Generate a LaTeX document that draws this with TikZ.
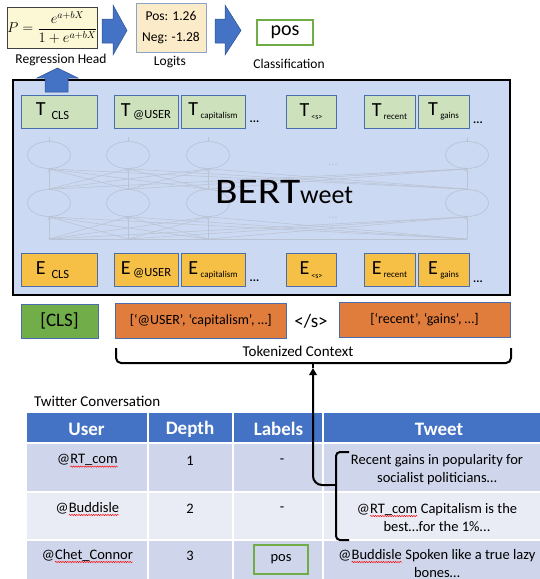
\documentclass[tikz,border=0pt]{standalone}
\usepackage{fontspec}
\setmainfont{Carlito}
\usepackage{amsmath}
\usetikzlibrary{arrows.meta,shapes.geometric,decorations.pathmorphing}
\newcommand\redwave[1]{\tikz[baseline=(wv.base)]{\node[inner sep=0, outer sep=0, draw=none, fill=none, shape=rectangle, anchor=base] (wv) at (0,0) {#1};
  \draw[red, line width=0.45pt, decorate, decoration={snake, amplitude=0.7pt, segment length=2.4pt}] ([yshift=-2.8pt]wv.base west) -- ([yshift=-2.8pt]wv.base east);}}
\definecolor{bertblue}{HTML}{CCD9F2}
\definecolor{tgreen}{HTML}{CDE2BC}
\definecolor{eorange}{HTML}{F6BF45}
\definecolor{boxblue}{HTML}{4A6DAD}
\definecolor{clsgreen}{HTML}{71AD48}
\definecolor{ctxorange}{HTML}{E07C3C}
\definecolor{hdrblue}{HTML}{4472C4}
\definecolor{rowa}{HTML}{CFD5EA}
\definecolor{rowb}{HTML}{E9EBF5}
\definecolor{regyellow}{HTML}{FCF8D6}
\definecolor{logitfill}{HTML}{FCEBC8}
\definecolor{logitedge}{HTML}{8DA3CB}
\definecolor{posgreen}{HTML}{70AD47}
\definecolor{arrowblue}{HTML}{4472C4}
\definecolor{arrowedge}{HTML}{2F528F}
\definecolor{netgray}{HTML}{BAC3D4}
\newcommand\tokfmt[5]{{\fontsize{20}{22}\selectfont #1}\kern#5\raisebox{-#4}{\fontsize{#3}{#3}\selectfont #2}}
\begin{document}
\begin{tikzpicture}[x=1pt,y=-1pt,
  lbl/.style={font=\fontsize{13.5}{15}\selectfont, inner sep=0},
  biglbl/.style={font=\fontsize{15}{17}\selectfont, inner sep=0},
  blockarrow/.style={fill=arrowblue, draw=arrowedge, line width=0.5pt},
  tokbox/.style={draw=boxblue, line width=0.8pt, inner sep=0, outer sep=0, minimum height=33},
  tbox/.style={tokbox, fill=tgreen},
  ebox/.style={tokbox, fill=eorange},
  dots/.style={font=\fontsize{12}{12}\selectfont\bfseries, inner sep=0},
  net/.style={draw=netgray, line width=0.55pt},
  netarrow/.style={net, -{Stealth[length=3pt,width=2.6pt]}},
  netnode/.style={ellipse, draw=netgray, line width=0.7pt, minimum width=43, minimum height=27, inner sep=0},
  ctxbox/.style={draw=boxblue, line width=0.8pt, fill=ctxorange, inner sep=0, minimum height=35, font=\fontsize{14}{16}\selectfont},
  bracepath/.style={draw=black, line width=2pt, rounded corners=5pt},
  cell/.style={draw=white, line width=1.5pt},
  hdr/.style={text=white, font=\fontsize{19}{21}\selectfont\bfseries, inner sep=0},
  celltxt/.style={font=\fontsize{14.5}{18.5}\selectfont, align=center, inner sep=0}
]
\useasboundingbox (0,0) rectangle (540,579);

% ---------- top row ----------
\node[draw=black!75, line width=1pt, fill=regyellow, minimum width=89, minimum height=41, inner sep=0] (reg) at (52.5,27.5)
  {\fontsize{14}{16}\selectfont $P=\dfrac{e^{a+bX}}{1+e^{a+bX}}$};
\node[lbl] (reglbl) at (61,60) {Regression Head};
\path[blockarrow] (102,19) -- (113,19) -- (113,5) -- (127,30.5) -- (113,55) -- (113,43) -- (102,43) -- cycle;
\node[draw=logitedge, line width=1pt, fill=logitfill, minimum width=70, minimum height=49, inner sep=0,
  align=center, font=\fontsize{13.5}{21}\selectfont] (logits) at (171,27.5) {Pos: 1.26\\Neg: -1.28};
\node[lbl] (logitslbl) at (170,62) {Logits};
\path[blockarrow] (215,19) -- (225,19) -- (225,5) -- (241,30.5) -- (225,55) -- (225,43) -- (215,43) -- cycle;
\node[draw=posgreen, line width=1.6pt, fill=white, minimum width=56, minimum height=25, inner sep=0,
  font=\fontsize{20}{22}\selectfont] (pos) at (285,32.5) {pos};
\node[lbl] (classlbl) at (289,63.5) {Classification};

% ---------- BERTweet box ----------
\node[draw=black, line width=1.6pt, fill=bertblue, minimum width=497, minimum height=215, inner sep=0, outer sep=0] (bert) at (261.5,187.5) {};

% faint network
\foreach \a in {49,128,208,467} {
  \node[netnode] (na\a) at (\a,155) {};
  \node[netnode] (nb\a) at (\a,203) {};
  \coordinate (nc\a) at (\a,239);
  \coordinate (nt\a) at (\a,137);
}
\foreach \a in {49,128,208,467} {
  \draw[net] (nt\a) -- (na\a.north);
  \foreach \b in {49,128,208,467} {
    \draw[netarrow] (nb\a.north) -- (na\b.south);
    \draw[netarrow] (nc\a) -- (nb\b.south);
  }
}
\draw[net] (nc49) -- (nc467);
\node[font=\fontsize{12}{12}\selectfont, text=netgray, inner sep=0] (ndots1) at (333,165) {...};
\node[font=\fontsize{12}{12}\selectfont, text=netgray, inner sep=0] (ndots2) at (333,218) {...};

% T boxes
\node[tbox, minimum width=76] (tcls) at (59,111.5) {\hspace*{-13pt}\tokfmt{T}{CLS}{12.5}{4pt}{6pt}};
\node[tbox, minimum width=64] (tuser) at (146,111.5) {\tokfmt{T}{@USER}{12.5}{2pt}{2.5pt}};
\node[tbox, minimum width=64] (tcap) at (213,111.5) {\tokfmt{T}{capitalism}{9}{3pt}{2.5pt}};
\node[dots] (tdots1) at (254.5,122) {...};
\node[tbox, minimum width=50] (ts) at (311,111.5) {\tokfmt{T}{<s>}{8}{3.5pt}{2pt}};
\node[tbox, minimum width=51] (trec) at (389.5,111.5) {\tokfmt{T}{recent}{9}{3pt}{2pt}};
\node[tbox, minimum width=51] (tgain) at (443.5,111.5) {\tokfmt{T}{gains}{9}{3pt}{2.5pt}};
\node[dots] (tdots2) at (478,123) {...};
% E boxes
\node[ebox, minimum width=76] (ecls) at (59,270) {\hspace*{-13pt}\tokfmt{E}{CLS}{12.5}{4pt}{6pt}};
\node[ebox, minimum width=64] (euser) at (146,270) {\tokfmt{E}{@USER}{12.5}{2pt}{2.5pt}};
\node[ebox, minimum width=64] (ecap) at (213,270) {\tokfmt{E}{capitalism}{9}{3pt}{2.5pt}};
\node[dots] (edots1) at (254.5,281) {...};
\node[ebox, minimum width=50] (es) at (311,270) {\tokfmt{E}{<s>}{8}{3.5pt}{2pt}};
\node[ebox, minimum width=51] (erec) at (389.5,270) {\tokfmt{E}{recent}{9}{3pt}{2pt}};
\node[ebox, minimum width=51] (egain) at (443.5,270) {\tokfmt{E}{gains}{9}{3pt}{2.5pt}};
\node[dots] (edots2) at (478,282) {...};

% BERTweet title
\node[anchor=base west, inner sep=0] (berttxt) at (215,203)
  {\fontsize{36}{40}\selectfont\scalebox{1.15}[1]{BERT}\fontsize{26}{30}\selectfont weet};

% up arrow into regression head
\path[blockarrow] (45,92) -- (45,78) -- (37,78) -- (57.5,68) -- (78,78) -- (68,78) -- (68,92) -- cycle;

% ---------- tokenized input ----------
\node[draw=boxblue, line width=0.8pt, fill=clsgreen, minimum width=77, minimum height=34, inner sep=0,
  font=\fontsize{19}{21}\selectfont] (cls) at (59.5,321) {[CLS]};
\node[ctxbox, minimum width=171.5] (ctx1) at (200.75,320.5) {[‘@USER’, ‘capitalism’, …]};
\node[inner sep=0, font=\fontsize{19}{21}\selectfont] (sep) at (311,321) {</s>};
\node[ctxbox, minimum width=171] (ctx2) at (424.5,319.5) {[‘recent’, ‘gains’, …]};
\node[biglbl] (tokctx) at (298,351) {Tokenized Context};

% brace under tokenized context
\coordinate (tcl) at (116,348);
\coordinate (tcr) at (511,348);
\coordinate (tctip) at (313,368);
\draw[bracepath] (tcl) -- (116,363) -- (511,363) -- (tcr);
\draw[black, line width=2pt] (313,362) -- (tctip);

\node[biglbl, anchor=west] (twconv) at (34,401) {Twitter Conversation};

% ---------- table ----------
\path[cell, fill=hdrblue] (26,412) rectangle (148,443);
\path[cell, fill=hdrblue] (148,412) rectangle (233,443);
\path[cell, fill=hdrblue] (233,412) rectangle (323,443);
\path[cell, fill=hdrblue] (323,412) rectangle (560,443);
\foreach \ya/\yb/\c in {443/492/rowa, 492/540/rowb, 540/592/rowa} {
  \path[cell, fill=\c] (26,\ya) rectangle (148,\yb);
  \path[cell, fill=\c] (148,\ya) rectangle (233,\yb);
  \path[cell, fill=\c] (233,\ya) rectangle (323,\yb);
  \path[cell, fill=\c] (323,\ya) rectangle (560,\yb);
}
\node[hdr] (hUser) at (86.5,429) {User};
\node[hdr] (hDepth) at (190,429) {Depth};
\node[hdr] (hLabels) at (278.5,429) {Labels};
\node[hdr] (hTweet) at (439,429) {Tweet};

\node[celltxt] (u1) at (87.5,461) {@\redwave{RT\_com}};
\node[celltxt] (d1) at (190,461) {1};
\node[celltxt] (l1) at (282,461) {-};
\node[celltxt] (w1) at (437,469.5) {Recent gains in popularity for\\socialist politicians…};

\node[celltxt] (u2) at (87.5,509) {@\redwave{Buddisle}};
\node[celltxt] (d2) at (190,509) {2};
\node[celltxt] (l2) at (282,509) {-};
\node[celltxt] (w2) at (437,517.5) {@\redwave{RT\_com} Capitalism is the\\best…for the 1\%...};

\node[celltxt] (u3) at (87.5,556) {@\redwave{Chet\_Connor}};
\node[celltxt] (d3) at (190,556) {3};
\node[draw=posgreen, line width=1.6pt, minimum width=54, minimum height=29, inner sep=0,
  font=\fontsize{14.5}{16}\selectfont] (l3) at (281,559.5) {pos};
\node[celltxt] (w3) at (437,563.5) {@\redwave{Buddisle} Spoken like a true lazy\\bones…};

% brace on tweets and connector
\coordinate (twt) at (349,452);
\coordinate (twb) at (349,540);
\coordinate (twtip) at (330,485);
\draw[bracepath, rounded corners=4pt] (twt) -- (336,452) -- (336,540) -- (twb);
\draw[black, line width=2pt] (336,485) -- (twtip);
\draw[black, line width=2pt, rounded corners=9pt, -{Triangle[length=7pt,width=7.5pt]}] (twtip) -| (tctip);
\end{tikzpicture}
\end{document}
